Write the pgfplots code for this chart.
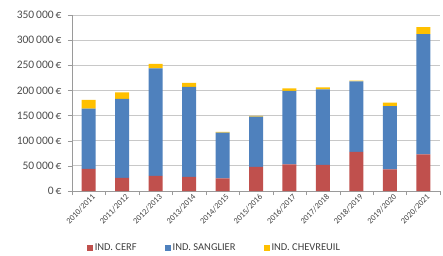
\documentclass[border=0pt]{standalone}
\usepackage{pgfplots}
\pgfplotsset{compat=1.18}
\usepackage{fontspec}
\setmainfont{Carlito}
\definecolor{cerf}{HTML}{C0504D}
\definecolor{sanglier}{HTML}{4F81BD}
\definecolor{chevreuil}{HTML}{FFC000}
\definecolor{gridc}{HTML}{C8C8C8}
\definecolor{axc}{HTML}{9A9A9A}
\begin{document}
\begin{tikzpicture}
\begin{axis}[
  scale only axis,
  width=368pt, height=176pt,
  ybar stacked, bar width=14pt,
  xmin=-0.5, xmax=10.5,
  ymin=0, ymax=350000,
  scaled y ticks=false,
  xtick={0,...,10},
  xticklabels={2010/2011,2011/2012,2012/2013,2013/2014,2014/2015,2015/2016,2016/2017,2017/2018,2018/2019,2019/2020,2020/2021},
  x tick label style={rotate=45, anchor=north east, font=\fontsize{8.3}{9}\selectfont, text=black!75, inner sep=1pt, xshift=4pt},
  major x tick style={draw=none},
  minor xtick={-0.5,0.5,...,10.5},
  minor x tick style={axc},
  minor tick length=4pt,
  ytick={0,50000,...,350000},
  yticklabels={0\,€,50\,000\,€,100\,000\,€,150\,000\,€,200\,000\,€,250\,000\,€,300\,000\,€,350\,000\,€},
  y tick label style={font=\fontsize{11.5}{12}\selectfont, text=black!70, xshift=-3pt},
  major y tick style={axc},
  major tick length=4pt,
  tick align=outside,
  ymajorgrids, grid style={gridc, line width=0.8pt},
  axis x line*=bottom, axis y line*=left,
  axis line style={axc, line width=0.6pt},
  x axis line style={-}, y axis line style={-},
  legend columns=3,
  legend style={at={(0.387,-0.325)}, anchor=center, draw=none, fill=none,
    font=\fontsize{10.5}{11}\selectfont, text=black!75,
    /tikz/every even column/.append style={column sep=26pt}},
  legend image code/.code={\fill[#1, draw=none] (0pt,-3pt) rectangle (6pt,3pt);},
]
\addplot[fill=cerf, draw=none] coordinates {(0,44000) (1,26000) (2,30000) (3,28000) (4,25000) (5,48000) (6,53000) (7,52000) (8,78000) (9,43000) (10,73000)};
\addplot[fill=sanglier, draw=none] coordinates {(0,120000) (1,157000) (2,214000) (3,179000) (4,91000) (5,100000) (6,146000) (7,150000) (8,140000) (9,126000) (10,239000)};
\addplot[fill=chevreuil, draw=none] coordinates {(0,17000) (1,13000) (2,9000) (3,8000) (4,1500) (5,1500) (6,5000) (7,4000) (8,1500) (9,7000) (10,14000)};
\legend{IND. CERF, IND. SANGLIER, IND. CHEVREUIL}
\end{axis}
\pgfresetboundingbox
\useasboundingbox ([xshift=-72pt,yshift=-64pt]current axis.south west) rectangle ([xshift=3pt,yshift=15pt]current axis.north east);
\end{tikzpicture}
\end{document}
